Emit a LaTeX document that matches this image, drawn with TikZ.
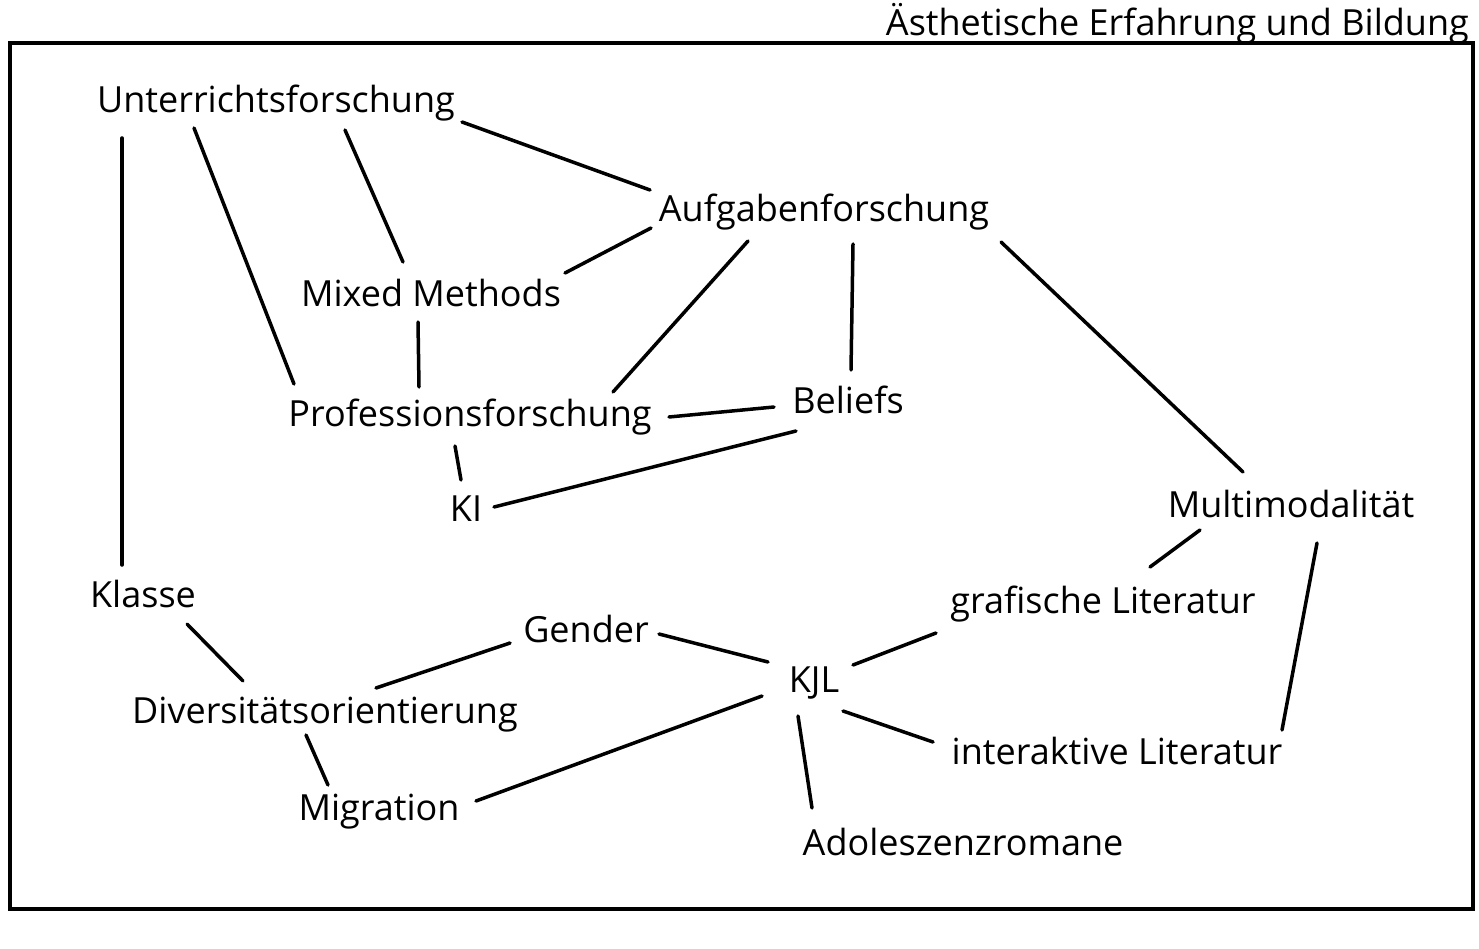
\documentclass[tikz,border=0pt]{standalone}
\usepackage{fontspec}
\setmainfont{Open Sans}
\usetikzlibrary{calc}
\begin{document}
\begin{tikzpicture}[x=1pt,y=-1pt,
  lbl/.style={font=\fontsize{36}{40}\selectfont, inner sep=0pt, text height=26pt, text depth=0pt},
  edge/.style={line width=3.5pt, line cap=round}]
\useasboundingbox (0,0) rectangle (1479,949);
\fill[white] (0,0) rectangle (1479,949);
\node[draw, line width=4pt, minimum width=1463pt, minimum height=866pt, anchor=north west, inner sep=0pt] (frame) at (8,41) {};
\node[font=\fontsize{36}{40}\selectfont, inner sep=0pt, anchor=base east] (title) at (1469,36) {Ästhetische Erfahrung und Bildung};
\node[lbl] (u) at (276,100) {Unterrichtsforschung};
\node[lbl] (a) at (824,209) {Aufgabenforschung};
\node[lbl] (m) at (431,294) {Mixed Methods};
\node[lbl] (p) at (470,413) {Professionsforschung};
\node[lbl] (b) at (848,400) {Beliefs};
\node[lbl] (ki) at (466,508) {KI};
\node[lbl] (mm) at (1291,504) {Multimodalität};
\node[lbl] (k) at (143,594) {Klasse};
\node[lbl] (g) at (1103,600) {grafische Literatur};
\node[lbl] (ge) at (586,629) {Gender};
\node[lbl] (kjl) at (814,679) {KJL};
\node[lbl] (d) at (325,710) {Diversitätsorientierung};
\node[lbl] (i) at (1117,751) {interaktive Literatur};
\node[lbl] (mi) at (379,807) {Migration};
\node[lbl] (ad) at (963,842) {Adoleszenzromane};
\draw[edge] ($(u)+(186,22)$) -- ($(a)+(-174,-19)$);
\draw[edge] ($(u)+(69,30)$) -- ($(m)+(-28,-32)$);
\draw[edge] ($(u)+(-82,28)$) -- ($(p)+(-176,-29)$);
\draw[edge] ($(u)+(-154,38)$) -- ($(k)+(-21,-29)$);
\draw[edge] ($(a)+(-173,19)$) -- ($(m)+(134,-21)$);
\draw[edge] ($(a)+(-76,32)$) -- ($(p)+(143,-21)$);
\draw[edge] ($(a)+(29,35)$) -- ($(b)+(3,-30)$);
\draw[edge] ($(a)+(177,33)$) -- ($(mm)+(-48,-32)$);
\draw[edge] ($(m)+(-13,28)$) -- ($(p)+(-51,-26)$);
\draw[edge] ($(p)+(199,4)$) -- ($(b)+(-74,7)$);
\draw[edge] ($(p)+(-15,33)$) -- ($(ki)+(-5,-28)$);
\draw[edge] ($(b)+(-52,31)$) -- ($(ki)+(28,-1)$);
\draw[edge] ($(k)+(44,30)$) -- ($(d)+(-82,-29)$);
\draw[edge] ($(ge)+(-76,14)$) -- ($(d)+(51,-22)$);
\draw[edge] ($(d)+(-19,25)$) -- ($(mi)+(-51,-22)$);
\draw[edge] ($(ge)+(73,5)$) -- ($(kjl)+(-46,-17)$);
\draw[edge] ($(kjl)+(-52,17)$) -- ($(mi)+(97,-6)$);
\draw[edge] ($(kjl)+(39,-14)$) -- ($(g)+(-167,33)$);
\draw[edge] ($(kjl)+(29,32)$) -- ($(i)+(-184,-9)$);
\draw[edge] ($(kjl)+(-16,37)$) -- ($(ad)+(-151,-34)$);
\draw[edge] ($(mm)+(-91,26)$) -- ($(g)+(47,-33)$);
\draw[edge] ($(mm)+(26,39)$) -- ($(i)+(165,-21)$);
\end{tikzpicture}
\end{document}
